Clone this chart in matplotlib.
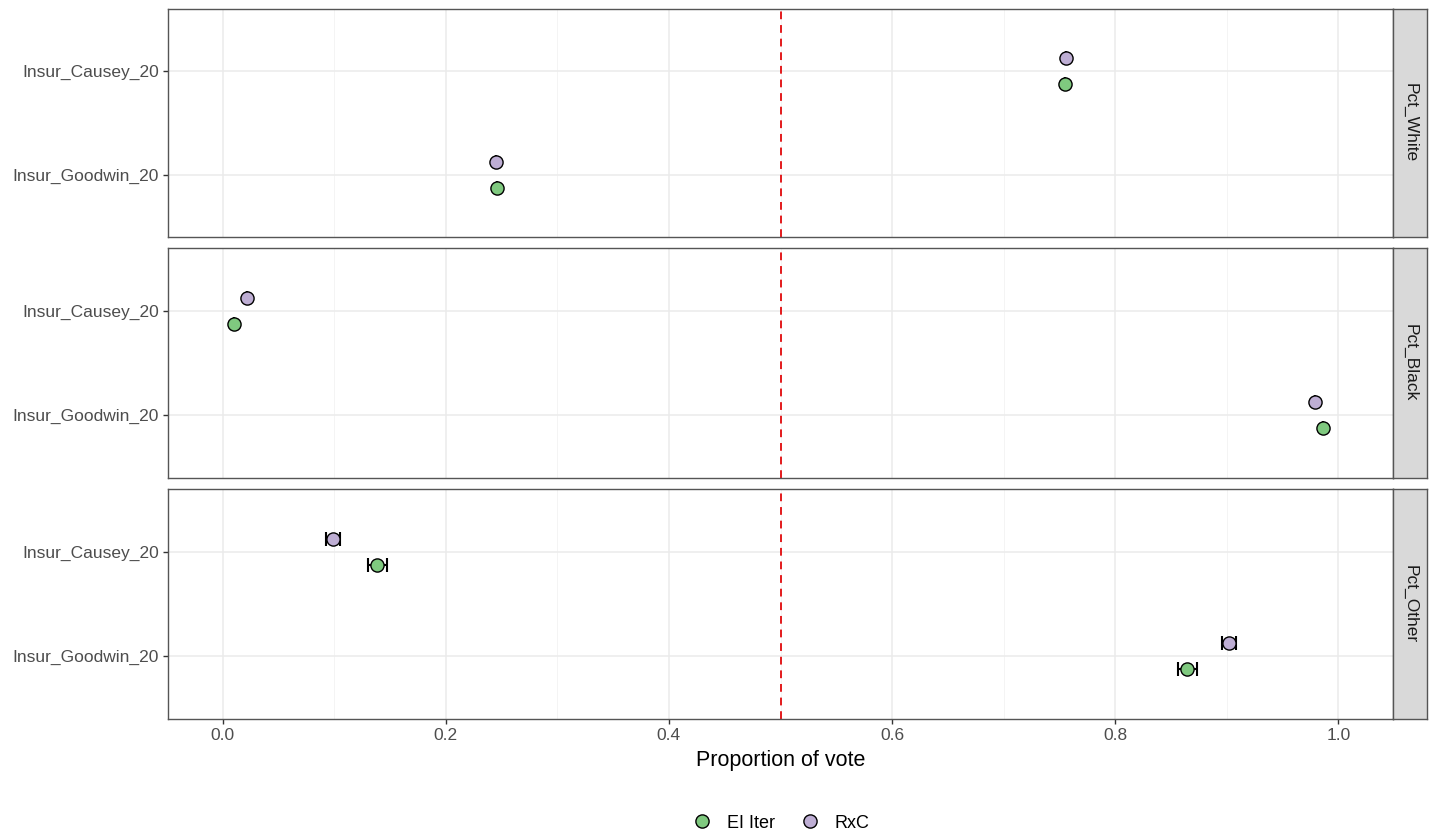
import numpy as np
import matplotlib.pyplot as plt

plt.rcParams['font.family'] = ['Liberation Sans', 'DejaVu Sans']

# data
groups = ['Pct_White', 'Pct_Black', 'Pct_Other']
candidates = ['Insur_Goodwin_20', 'Insur_Causey_20']
methods = ['EI Iter', 'RxC']

ei_est = {'Pct_White': [0.2455, 0.755], 'Pct_Black': [0.9866, 0.0099], 'Pct_Other': [0.864, 0.138]}
ei_lo = {'Pct_White': [0.2455, 0.755], 'Pct_Black': [0.9866, 0.0099], 'Pct_Other': [0.856, 0.130]}
ei_hi = {'Pct_White': [0.2455, 0.755], 'Pct_Black': [0.9866, 0.0099], 'Pct_Other': [0.873, 0.147]}

rxc_est = {'Pct_White': [0.245, 0.756], 'Pct_Black': [0.979, 0.0215], 'Pct_Other': [0.902, 0.0986]}
rxc_lo = {'Pct_White': [0.245, 0.756], 'Pct_Black': [0.979, 0.0215], 'Pct_Other': [0.896, 0.093]}
rxc_hi = {'Pct_White': [0.245, 0.756], 'Pct_Black': [0.979, 0.0215], 'Pct_Other': [0.908, 0.105]}

colors = {'EI Iter': '#7FC97F', 'RxC': '#BEAED4'}
offsets = {'EI Iter': -0.125, 'RxC': 0.125}

W, H = 1434, 836
fig = plt.figure(figsize=(W / 100, H / 100), dpi=100)

panel_px = [(9, 237), (248, 478), (489, 719)]
left_px, right_px, strip_w = 168, 1393, 34
border = '#555555'

ypos = np.arange(1, len(candidates) + 1)

for i, g in enumerate(groups):
    top, bot = panel_px[i]
    ax = fig.add_axes([left_px / W, 1 - bot / H, (right_px - left_px) / W, (bot - top) / H])
    ax.set_xlim(-0.049, 1.049)
    ax.set_ylim(0.4, 2.6)
    ax.set_xticks(np.arange(0, 1.01, 0.2))
    ax.set_xticks(np.arange(0.1, 1.0, 0.2), minor=True)
    ax.set_yticks(ypos)
    ax.set_yticklabels(candidates)
    ax.grid(True, which='major', color='#ebebeb', lw=1.1, zorder=0)
    ax.grid(True, which='minor', axis='x', color='#f3f3f3', lw=0.6, zorder=0)
    ax.set_axisbelow(True)
    for s in ax.spines.values():
        s.set_color(border)
        s.set_linewidth(1.0)
    ax.tick_params(axis='both', which='major', color='#333333', length=3.5, width=1.0,
                   labelsize=12.5, labelcolor='#4d4d4d', pad=3)
    ax.tick_params(axis='x', which='minor', length=0)
    if i < 2:
        ax.tick_params(axis='x', labelbottom=False, length=0)

    ax.axvline(0.5, color='#e31a1c', ls=(0, (4, 3)), lw=1.4, zorder=2)

    for m, est, lo, hi in [('EI Iter', ei_est, ei_lo, ei_hi), ('RxC', rxc_est, rxc_lo, rxc_hi)]:
        x = np.array(est[g])
        xerr = [x - np.array(lo[g]), np.array(hi[g]) - x]
        y = ypos + offsets[m]
        ax.errorbar(x, y, xerr=xerr, fmt='none', ecolor='black', elinewidth=1.5,
                    capsize=5, capthick=1.5, zorder=3)
        ax.scatter(x, y, s=90, color=colors[m], edgecolor='black', linewidth=1.0,
                   zorder=4, label=m)

    if i == 2:
        ax.set_xlabel('Proportion of vote', fontsize=15.5, color='black', labelpad=5)

    # facet strip
    sax = fig.add_axes([right_px / W, 1 - bot / H, strip_w / W, (bot - top) / H])
    sax.set_facecolor('#d9d9d9')
    sax.set_xticks([])
    sax.set_yticks([])
    for s in sax.spines.values():
        s.set_color(border)
        s.set_linewidth(1.0)
    sax.text(0.5, 0.5, g, rotation=270, ha='center', va='center', fontsize=12.5,
             color='#1a1a1a', transform=sax.transAxes)

handles = [plt.Line2D([], [], marker='o', ls='none', markersize=9.5, markerfacecolor=colors[m],
                      markeredgecolor='black', markeredgewidth=1.0) for m in methods]
fig.legend(handles, methods, loc='center', bbox_to_anchor=((left_px + right_px) / 2 / W, 1 - 823 / H),
           ncol=2, frameon=False, fontsize=13, handlelength=1.2, handletextpad=0.8,
           columnspacing=1.3)

fig.savefig('out.png', dpi=100, facecolor='white')
